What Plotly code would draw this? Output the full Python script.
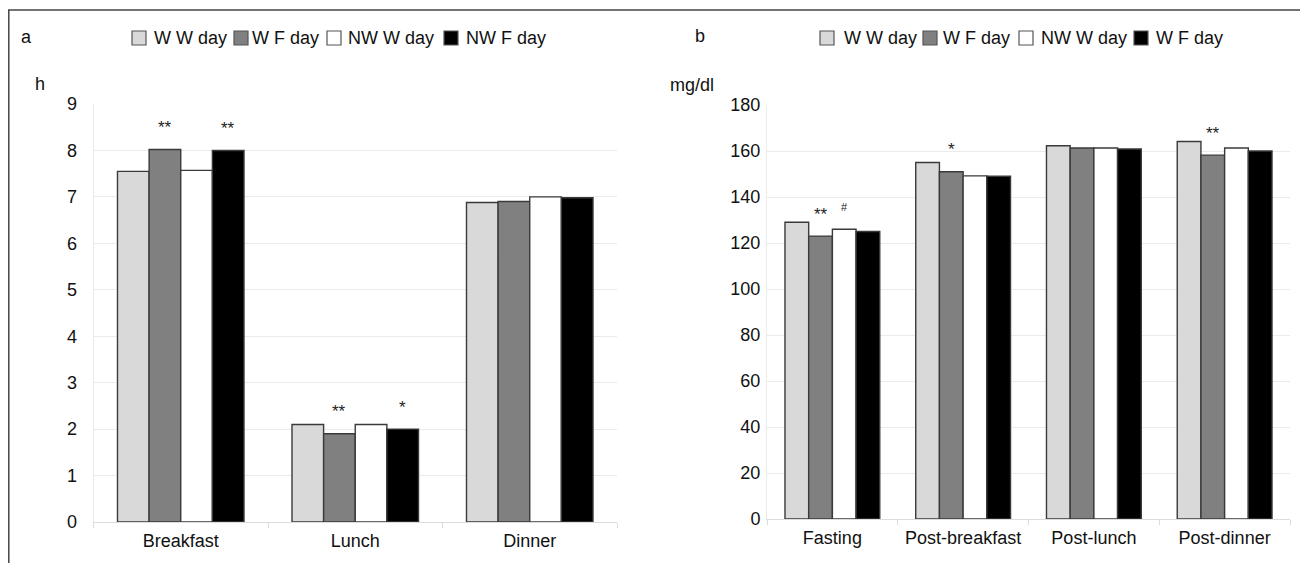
import plotly.graph_objects as go

# ---- data ----
cats_a = ["Breakfast", "Lunch", "Dinner"]
cats_b = ["Fasting", "Post-breakfast", "Post-lunch", "Post-dinner"]

names_a = ["W W day", "W F day", "NW W day", "NW F day"]
names_b = ["W W day", "W F day", "NW W day", "W F day"]

ww_a = [7.55, 2.1, 6.88]
wf_a = [8.02, 1.9, 6.9]
nww_a = [7.57, 2.1, 7.0]
nwf_a = [8.0, 2.0, 6.98]

ww_b = [129, 155, 162.3, 164.1]
wf_b = [123, 151, 161.3, 158.2]
nww_b = [126, 149.2, 161.3, 161.3]
nwf_b = [125, 149, 160.9, 160.0]

yticks_a = [0, 1, 2, 3, 4, 5, 6, 7, 8, 9]
yticks_b = [0, 20, 40, 60, 80, 100, 120, 140, 160, 180]

# significance marks: (category index, series index, label)
sig_a = [(0, 1, "**"), (0, 3, "**"), (1, 1, "**"), (1, 3, "*")]
sig_b = [(0, 1, "**"), (0, 2, "#"), (1, 1, "*"), (3, 1, "**")]

# ---- style ----
colors = ["#d9d9d9", "#808080", "#ffffff", "#000000"]
edge = "#3a3a3a"
FONT = "Liberation Sans, Arial, sans-serif"
BARGAP = 0.275

# page has an 8px body margin; work in screen pixels and convert
OFF = 8
W, H = 1300, 555
def px(x):
    return (x - OFF) / W
def py(y):
    return 1 - (y - OFF) / H

fig = go.Figure()
series_a = [ww_a, wf_a, nww_a, nwf_a]
series_b = [ww_b, wf_b, nww_b, nwf_b]

for i, (nm, vals) in enumerate(zip(names_a, series_a)):
    fig.add_trace(go.Bar(x=cats_a, y=vals, name=nm, xaxis="x", yaxis="y",
                         marker=dict(color=colors[i], line=dict(color=edge, width=1.4)),
                         showlegend=False, offsetgroup=str(i)))
for i, (nm, vals) in enumerate(zip(names_b, series_b)):
    fig.add_trace(go.Bar(x=cats_b, y=vals, name=nm, xaxis="x2", yaxis="y2",
                         marker=dict(color=colors[i], line=dict(color=edge, width=1.4)),
                         showlegend=False, offsetgroup=str(i)))

bw = (1 - BARGAP) / 4
def offset(si):
    return -(1 - BARGAP) / 2 + bw * (si + 0.5)

ann = []
shapes = []
for axes, sig, series in [(("x", "y"), sig_a, series_a), (("x2", "y2"), sig_b, series_b)]:
    for ci, si, lab in sig:
        ann.append(dict(x=ci + offset(si), y=series[si][ci], xref=axes[0], yref=axes[1],
                        text=lab, showarrow=False, yanchor="middle", yshift=22,
                        font=dict(size=17 if lab != "#" else 11, color="#222", family=FONT)))

# panel letters and units
for txt, x, y in [("a", 26, 37), ("b", 700, 36), ("h", 40, 84), ("mg/dl", 692, 85)]:
    ann.append(dict(x=px(x), y=py(y), xref="paper", yref="paper", text=txt,
                    showarrow=False, xanchor="center", yanchor="middle",
                    font=dict(size=18, color="#111", family=FONT)))

# hand-placed legends (box left x, text left x) per entry
leg_a_pos = [(132, 152), (234, 250), (327, 346), (444, 464)]
leg_b_pos = [(820, 842), (923, 941), (1019, 1039), (1134, 1154)]
LEG_Y = 38
for names, pos in [(names_a, leg_a_pos), (names_b, leg_b_pos)]:
    for i, (nm, (bx, tx)) in enumerate(zip(names, pos)):
        shapes.append(dict(type="rect", xref="paper", yref="paper",
                           x0=px(bx), x1=px(bx + 14), y0=py(LEG_Y + 7), y1=py(LEG_Y - 7),
                           fillcolor=colors[i], line=dict(color="#555555", width=1.2)))
        ann.append(dict(x=px(tx), y=py(LEG_Y), xref="paper", yref="paper", text=nm,
                        showarrow=False, xanchor="left", yanchor="middle",
                        font=dict(size=18, color="#111", family=FONT)))

axis_common = dict(zeroline=False, automargin=False,
                   tickfont=dict(size=18, color="#111", family=FONT))

fig.update_layout(
    width=W, height=H,
    margin=dict(l=0, r=0, t=0, b=0, autoexpand=False),
    paper_bgcolor="white", plot_bgcolor="white",
    barmode="group", bargap=BARGAP, bargroupgap=0,
    font=dict(family=FONT, color="#111"),
    showlegend=False,
    xaxis=dict(domain=[px(93.5), px(617)], anchor="y", type="category",
               showgrid=False, showline=True, linecolor="#dcdcdc", linewidth=1.2,
               ticks="outside", tickson="boundaries", ticklen=5,
               tickcolor="#dcdcdc", ticklabelstandoff=2, **axis_common),
    yaxis=dict(domain=[py(522), py(104)], anchor="x", range=[0, 9],
               tickvals=yticks_a, showgrid=True, gridcolor="#ebebeb", gridwidth=1.2,
               showline=True, linecolor="#ececec", linewidth=1,
               ticks="", ticklabelstandoff=12, **axis_common),
    xaxis2=dict(domain=[px(767), px(1290)], anchor="y2", type="category",
                showgrid=False, showline=True, linecolor="#dcdcdc", linewidth=1.2,
                ticks="outside", tickson="boundaries", ticklen=5,
                tickcolor="#dcdcdc", ticklabelstandoff=2, **axis_common),
    yaxis2=dict(domain=[py(519), py(105)], anchor="x2", range=[0, 180],
                tickvals=yticks_b, showgrid=True, gridcolor="#ebebeb", gridwidth=1.2,
                showline=True, linecolor="#ececec", linewidth=1,
                ticks="", ticklabelstandoff=2, **axis_common),
    annotations=ann,
    shapes=shapes + [
        dict(type="line", xref="paper", yref="paper", x0=0, x1=1, y0=py(10), y1=py(10),
             line=dict(color="#444444", width=1.5)),
        dict(type="line", xref="paper", yref="paper", x0=px(8.8), x1=px(8.8), y0=-0.05, y1=py(10),
             line=dict(color="#444444", width=1.5)),
    ],
)

fig.write_html("out.html")
